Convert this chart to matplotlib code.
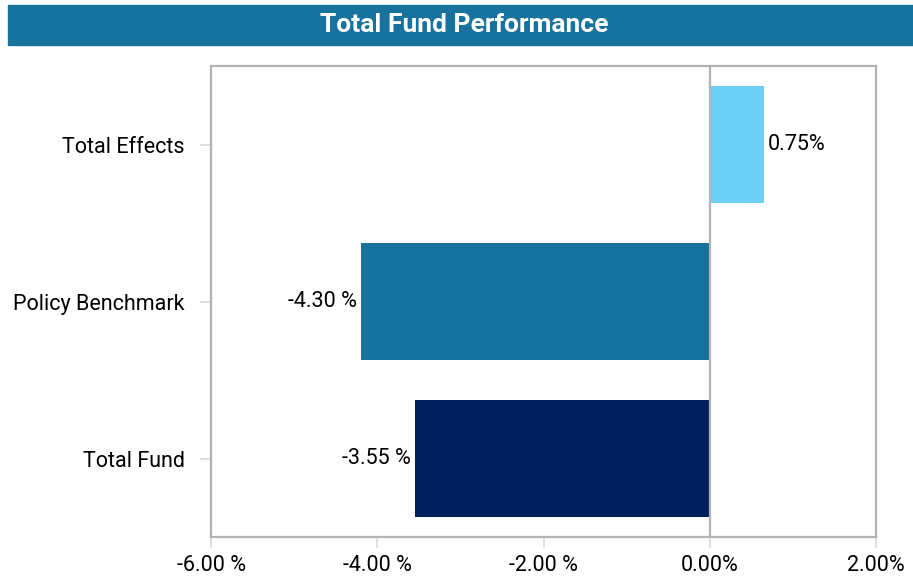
import matplotlib.pyplot as plt
from matplotlib.patches import Rectangle

plt.rcParams['font.family'] = ['Roboto', 'DejaVu Sans']

# data (bar lengths) and the printed labels
categories = ['Total Effects', 'Policy Benchmark', 'Total Fund']
values = [0.65, -4.2, -3.55]
value_labels = ['0.75%', '-4.30 %', '-3.55 %']
colors = ['#6DD0F7', '#17729E', '#00205B']
xticks = [-6, -4, -2, 0, 2]
xtick_labels = ['-6.00 %', '-4.00 %', '-2.00 %', '0.00%', '2.00%']

fig = plt.figure(figsize=(9.13, 5.8), dpi=100)

# title banner
fig.patches.append(Rectangle((8 / 913, 535 / 580), 905 / 913, 40 / 580,
                             transform=fig.transFigure, color='#17729E', zorder=0))
fig.text(464 / 913, 555 / 580, 'Total Fund Performance', color='white',
         fontsize=19, fontweight='bold', ha='center', va='center')

ax = fig.add_axes([211 / 913, 43 / 580, 665 / 913, 471 / 580])
y = range(len(categories))
ax.barh(y, values, height=0.745, color=colors, zorder=2)
ax.axvline(0, color='#b3b3b3', lw=1.6, zorder=3)

for i, (v, lab) in enumerate(zip(values, value_labels)):
    if v >= 0:
        ax.annotate(lab, (v, i), xytext=(3, 0), textcoords='offset points',
                    ha='left', va='center', fontsize=15.5)
    else:
        ax.annotate(lab, (v, i), xytext=(-3, 0), textcoords='offset points',
                    ha='right', va='center', fontsize=15.5)

ax.set_xlim(-6, 2)
ax.set_ylim(2.5, -0.5)
ax.set_yticks(list(y))
ax.set_yticklabels(categories, fontsize=15.5, va='center_baseline')
ax.set_xticks(xticks)
ax.set_xticklabels(xtick_labels, fontsize=15.5)
ax.tick_params(axis='both', color='#d9d9d9', length=8, width=1.2)
ax.tick_params(axis='y', pad=11)
ax.tick_params(axis='x', pad=5)
for s in ax.spines.values():
    s.set_color('#b3b3b3')
    s.set_linewidth(1.6)

fig.savefig('out.png', dpi=100)
